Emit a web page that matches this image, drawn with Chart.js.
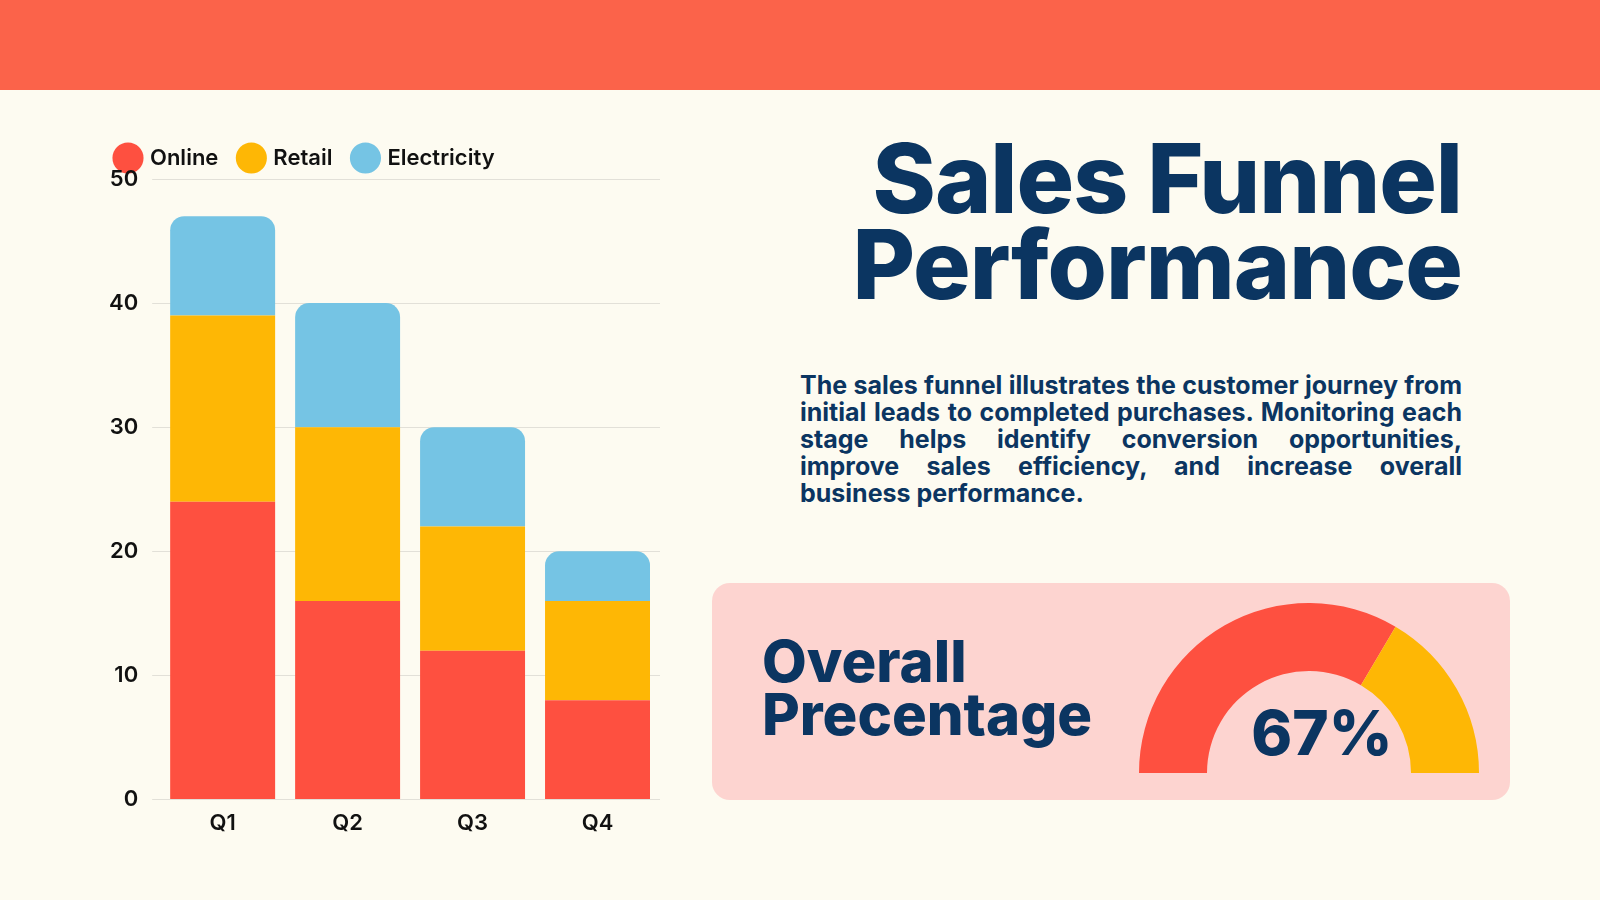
<!DOCTYPE html>
<html><head><meta charset="utf-8">
<script src="https://cdn.jsdelivr.net/npm/chart.js@4"></script>
<style>
body{margin:0;width:1600px;height:900px;background:#fdfbf1;font-family:Inter,"Noto Sans",sans-serif;position:relative;overflow:hidden}
#top{position:absolute;left:0;top:0;width:1600px;height:90px;background:#fb634a}
#chartBox{position:absolute;left:95px;top:125px;width:565px;height:715px}
#title{position:absolute;right:138px;top:135px;text-align:right;color:#0b3561;font-weight:800;font-size:96px;line-height:86px;letter-spacing:-1px}
#para{position:absolute;left:800px;top:372px;width:662px;color:#0b3561;font-weight:700;font-size:25px;line-height:27px;text-align:justify}
#card{position:absolute;left:712px;top:583px;width:798px;height:217px;background:#fdd4d0;border-radius:18px}
#ovl{position:absolute;left:50px;top:52px;color:#0b3561;font-weight:800;font-size:58px;line-height:53px}
#gaugeBox{position:absolute;left:427px;top:20px;width:340px;height:170px}
#pct{position:absolute;left:510px;top:112px;width:200px;text-align:center;color:#0b3561;font-weight:800;font-size:62px}
</style></head><body>
<div id="top"></div>
<div id="chartBox"><canvas id="bar"></canvas></div>
<div id="title">Sales Funnel<br>Performance</div>
<div id="para">The sales funnel illustrates the customer journey from initial leads to completed purchases. Monitoring each stage helps identify conversion opportunities, improve sales efficiency, and increase overall business performance.</div>
<div id="card">
 <div id="ovl">Overall<br>Precentage</div>
 <div id="gaugeBox"><canvas id="gauge"></canvas></div>
 <div id="pct">67%</div>
</div>
<script>
const quarters = ['Q1','Q2','Q3','Q4'];
const online = [24,16,12,8];
const retail = [15,14,10,8];
const electricity = [8,10,8,4];
const gaugeValues = [67,33];

const font = {family:'Inter', weight:'600', size:22};
new Chart(document.getElementById('bar'), {
  type:'bar',
  data:{labels:quarters, datasets:[
    {label:'Online', data:online, backgroundColor:'#fe5040', borderRadius:0},
    {label:'Retail', data:retail, backgroundColor:'#feb705'},
    {label:'Electricity', data:electricity, backgroundColor:'#75c4e4', borderRadius:{topLeft:14,topRight:14}, borderSkipped:false}
  ]},
  options:{
    responsive:true, maintainAspectRatio:false, animation:false,
    datasets:{bar:{categoryPercentage:1, barPercentage:0.84}},
    plugins:{legend:{position:'top', align:'start', labels:{usePointStyle:true, pointStyle:'circle', boxWidth:22, boxHeight:22, padding:22, color:'#111', font:font}}, tooltip:{enabled:false}},
    scales:{
      x:{stacked:true, grid:{display:false}, border:{display:false}, ticks:{color:'#111', font:font}},
      y:{stacked:true, min:0, max:50, ticks:{stepSize:10, color:'#111', font:font, padding:14}, grid:{color:'#e2e0d8'}, border:{display:false}}
    }
  }
});

new Chart(document.getElementById('gauge'), {
  type:'doughnut',
  data:{datasets:[{data:gaugeValues, backgroundColor:['#fe5040','#feb705'], borderWidth:0}]},
  options:{responsive:true, maintainAspectRatio:false, animation:false, rotation:-90, circumference:180, cutout:'60%',
    plugins:{legend:{display:false}, tooltip:{enabled:false}}}
});
</script>
</body></html>
